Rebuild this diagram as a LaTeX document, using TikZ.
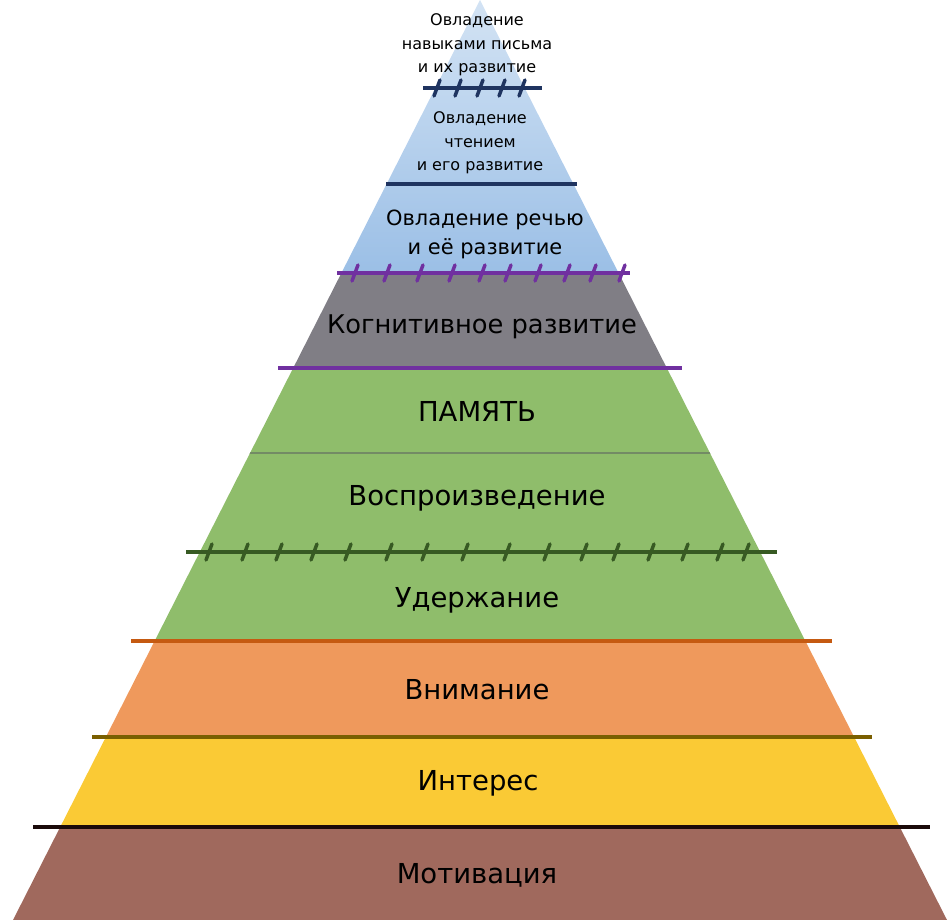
\documentclass[tikz,border=0pt]{standalone}
\usepackage{fontspec}
\setmainfont{DejaVu Sans}
\usetikzlibrary{positioning}

\definecolor{topblue}{HTML}{D3E3F4}
\definecolor{lowblue}{HTML}{9BBFE6}
\definecolor{cogngrey}{HTML}{807E85}
\definecolor{memgreen}{HTML}{8FBD6B}
\definecolor{attnorange}{HTML}{EF995C}
\definecolor{intyellow}{HTML}{FACA35}
\definecolor{motbrown}{HTML}{A0695D}
\definecolor{navyline}{HTML}{1F3460}
\definecolor{purpleline}{HTML}{7030A0}
\definecolor{greenline}{HTML}{375A23}
\definecolor{orangeline}{HTML}{C55A11}
\definecolor{oliveline}{HTML}{7A5F00}
\definecolor{blackline}{HTML}{1A0A0A}

\begin{document}
\begin{tikzpicture}[
  x=0.75pt, y=-0.75pt,
  tiertext/.style={align=center, inner sep=0pt, text=black},
  smalltier/.style={tiertext, font=\fontsize{12}{17.6}\selectfont},
  midtier/.style={tiertext, font=\fontsize{15.7}{21.8}\selectfont},
  bigtier/.style={tiertext, font=\fontsize{20.6}{24}\selectfont},
  divider/.style={line width=3.3pt, line cap=butt},
  notch/.style={line width=2.6pt, line cap=round}
]
\useasboundingbox (0,0) rectangle (949,920);

% pyramid bands
\begin{scope}
  \clip (480,0) -- (947,920) -- (13,920) -- cycle;
  \shade[top color=topblue, bottom color=lowblue] (0,0) rectangle (949,273);
  \fill[cogngrey] (0,273) rectangle (949,368);
  \fill[memgreen] (0,368) rectangle (949,641);
  \fill[attnorange] (0,641) rectangle (949,737);
  \fill[intyellow] (0,737) rectangle (949,827);
  \fill[motbrown] (0,827) rectangle (949,920);
  \draw[greenline!70, line width=1pt] (0,453) -- (949,453);
\end{scope}

% dividers
\coordinate (w1) at (423,88);  \coordinate (e1) at (542,88);
\coordinate (w2) at (386,184); \coordinate (e2) at (577,184);
\coordinate (w3) at (337,273); \coordinate (e3) at (630,273);
\coordinate (w4) at (278,368); \coordinate (e4) at (682,368);
\coordinate (w5) at (186,552); \coordinate (e5) at (777,552);
\coordinate (w6) at (131,641); \coordinate (e6) at (832,641);
\coordinate (w7) at (92,737);  \coordinate (e7) at (872,737);
\coordinate (w8) at (33,827);  \coordinate (e8) at (930,827);

\draw[divider, navyline] (w1) -- (e1);
\draw[divider, navyline] (w2) -- (e2);
\draw[divider, purpleline] (w3) -- (e3);
\draw[divider, purpleline] (w4) -- (e4);
\draw[divider, greenline] (w5) -- (e5);
\draw[divider, orangeline] (w6) -- (e6);
\draw[divider, oliveline] (w7) -- (e7);
\draw[divider, blackline] (w8) -- (e8);

% notches across the lines
\foreach \t in {437,458,480,502,522}
  \draw[notch, navyline] (\t-3,96) -- (\t+3,80);
\foreach \t in {355,387,420,452,482,508,538,567,593,622}
  \draw[notch, purpleline] (\t-3,281) -- (\t+3,265);
\foreach \t in {209,245,279,314,348,389,425,465,507,547,584,616,651,685,720,746}
  \draw[notch, greenline] (\t-3,560) -- (\t+3,544);

% texts
\node[smalltier] (writing) at (477,45) {Овладение\\навыками письма\\и их развитие};
\node[smalltier] (reading) at (480,143) {Овладение\\чтением\\и его развитие};
\node[midtier] (speech) at (485,234) {Овладение речью\\и её развитие};
\node[bigtier, font=\fontsize{19.3}{24}\selectfont] (cognition) at (482,327) {Когнитивное развитие};
\node[bigtier] (memory) at (477,411) {ПАМЯТЬ};
\node[bigtier] (recall) at (477,498) {Воспроизведение};
\node[bigtier] (retention) at (477,600) {Удержание};
\node[bigtier] (attention) at (477,690) {Внимание};
\node[bigtier] (interest) at (478,783) {Интерес};
\node[bigtier] (motivation) at (477,875) {Мотивация};
\end{tikzpicture}
\end{document}
